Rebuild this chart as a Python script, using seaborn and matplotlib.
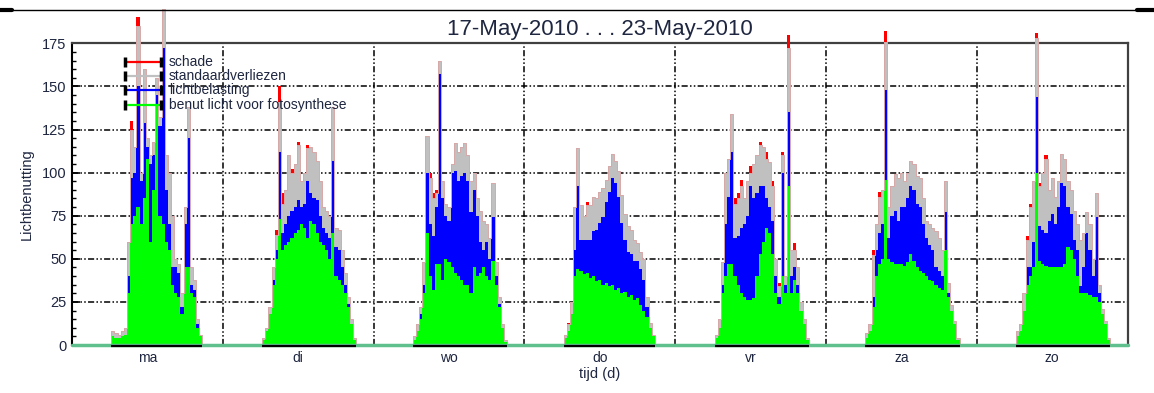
import matplotlib
matplotlib.use("Agg")
import matplotlib.pyplot as plt
from matplotlib.lines import Line2D
import seaborn as sns
import numpy as np
import pandas as pd

# dagen van de week (17 t/m 23 mei 2010)
dagen = ["ma", "di", "wo", "do", "vr", "za", "zo"]

# tijdstippen per dag (uur), halfuurlijkse waarden
uren = [6.0, 6.5, 7.0, 7.5, 8.0, 8.5, 9.0, 9.5, 10.0, 10.5, 11.0, 11.5, 12.0, 12.5, 13.0, 13.5,
        14.0, 14.5, 15.0, 15.5, 16.0, 16.5, 17.0, 17.5, 18.0, 18.5, 19.0, 19.5, 20.0, 20.5, 21.0, 21.5]

# benut licht voor fotosynthese
benut = [
    [0, 5, 4, 4, 5, 6, 30, 70, 75, 80, 70, 85, 108, 60, 90, 140, 75, 70, 60, 55, 35, 30, 28, 18, 45, 45, 30, 28, 10, 5, 0, 0],
    [0, 3, 8, 18, 35, 50, 73, 55, 58, 60, 62, 65, 67, 70, 68, 62, 72, 70, 65, 60, 58, 55, 50, 65, 40, 38, 35, 30, 22, 12, 3, 0],
    [0, 3, 8, 15, 30, 65, 40, 32, 47, 47, 38, 50, 48, 45, 42, 40, 38, 35, 35, 30, 45, 40, 42, 45, 40, 38, 49, 35, 22, 10, 2, 0],
    [0, 4, 8, 18, 40, 44, 43, 41, 42, 39, 40, 37, 38, 35, 36, 34, 35, 32, 33, 30, 31, 28, 29, 26, 27, 23, 20, 16, 10, 5, 0, 0],
    [0, 4, 10, 30, 40, 47, 47, 40, 35, 30, 28, 26, 26, 27, 40, 53, 60, 68, 65, 53, 30, 24, 40, 30, 92, 30, 38, 30, 20, 12, 3, 0],
    [0, 4, 8, 22, 40, 47, 50, 96, 50, 48, 47, 47, 47, 46, 48, 53, 49, 45, 43, 42, 40, 38, 37, 35, 33, 32, 55, 28, 20, 12, 3, 0],
    [0, 5, 8, 20, 35, 40, 45, 100, 49, 47, 46, 45, 45, 45, 45, 45, 47, 57, 55, 50, 40, 30, 30, 30, 29, 28, 28, 25, 18, 12, 3, 0],
]

# lichtbelasting
belasting = [
    [0, 0, 0, 0, 0, 0, 10, 27, 25, 70, 25, 44, 7, 45, 20, 5, 52, 102, 30, 15, 10, 15, 14, 4, 25, 75, 5, 4, 2, 0, 0, 0],
    [0, 0, 0, 0, 3, 5, 39, 10, 12, 15, 16, 15, 17, 10, 14, 33, 16, 15, 19, 15, 10, 10, 12, 42, 17, 17, 10, 5, 2, 0, 0, 0],
    [0, 0, 0, 3, 5, 35, 30, 31, 33, 110, 47, 25, 24, 55, 59, 55, 60, 65, 60, 47, 45, 35, 18, 10, 20, 12, 25, 5, 2, 0, 0, 0],
    [0, 0, 0, 0, 15, 48, 18, 20, 19, 22, 26, 30, 33, 39, 47, 55, 62, 62, 53, 41, 30, 26, 24, 23, 22, 21, 18, 6, 0, 0, 0, 0],
    [0, 0, 0, 5, 30, 39, 65, 22, 28, 38, 42, 49, 66, 58, 48, 39, 32, 17, 15, 19, 10, 4, 60, 5, 43, 10, 7, 5, 0, 0, 0, 0],
    [0, 0, 0, 6, 15, 18, 20, 52, 12, 27, 31, 25, 33, 34, 37, 39, 41, 37, 37, 28, 22, 20, 18, 10, 10, 8, 22, 2, 0, 0, 0, 0],
    [0, 0, 0, 0, 10, 5, 15, 44, 20, 20, 19, 27, 31, 25, 35, 49, 45, 23, 21, 11, 15, 4, 15, 35, 26, 12, 46, 5, 0, 0, 0, 0],
]

# standaardverliezen
verliezen = [
    [0, 3, 3, 2, 3, 4, 20, 28, 15, 35, 5, 31, 5, 5, 8, 10, 5, 23, 20, 30, 30, 5, 5, 8, 10, 18, 10, 6, 3, 1, 0, 0],
    [0, 1, 2, 4, 7, 9, 29, 17, 20, 35, 22, 25, 32, 15, 18, 19, 27, 27, 23, 20, 12, 13, 13, 31, 11, 12, 10, 7, 4, 3, 1, 0],
    [0, 2, 4, 4, 13, 21, 27, 22, 8, 8, 10, 7, 8, 5, 16, 17, 17, 17, 15, 18, 10, 10, 18, 17, 10, 12, 20, 8, 4, 2, 1, 0],
    [0, 2, 4, 7, 25, 22, 20, 14, 20, 20, 20, 18, 18, 17, 13, 15, 14, 13, 15, 16, 15, 15, 14, 12, 10, 10, 12, 6, 3, 1, 0, 0],
    [0, 2, 5, 13, 30, 22, 22, 20, 22, 24, 15, 20, 8, 20, 22, 24, 23, 23, 26, 20, 10, 6, 10, 5, 37, 15, 10, 10, 5, 3, 1, 0],
    [0, 3, 4, 24, 15, 21, 20, 28, 18, 17, 21, 25, 20, 15, 15, 15, 15, 16, 17, 15, 10, 12, 13, 21, 19, 15, 18, 6, 3, 2, 1, 0],
    [0, 3, 4, 10, 16, 35, 35, 34, 23, 33, 43, 18, 21, 16, 15, 17, 16, 15, 14, 17, 15, 27, 20, 12, 15, 10, 14, 5, 3, 2, 1, 0],
]

# schade
schade = [
    [0, 0, 0, 0, 0, 0, 0, 5, 0, 5, 0, 0, 0, 0, 0, 0, 0, 0, 0, 0, 0, 0, 0, 0, 0, 0, 0, 0, 0, 0, 0, 0],
    [0, 0, 0, 0, 0, 3, 9, 6, 0, 0, 2, 0, 2, 0, 0, 2, 0, 0, 0, 0, 0, 0, 0, 0, 0, 0, 0, 0, 0, 0, 0, 0],
    [0, 0, 0, 0, 0, 0, 3, 3, 2, 0, 0, 0, 0, 0, 0, 0, 0, 0, 0, 0, 0, 0, 0, 0, 0, 0, 0, 0, 0, 0, 0, 0],
    [0, 0, 1, 0, 0, 0, 0, 0, 2, 0, 0, 0, 0, 0, 0, 0, 0, 0, 0, 0, 0, 0, 0, 0, 0, 0, 0, 0, 0, 0, 0, 0],
    [0, 0, 0, 0, 0, 0, 0, 3, 3, 4, 0, 0, 4, 0, 0, 2, 0, 4, 0, 3, 0, 2, 2, 0, 8, 0, 4, 0, 0, 0, 0, 0],
    [0, 0, 0, 3, 0, 3, 0, 6, 0, 0, 0, 0, 0, 0, 0, 0, 0, 0, 0, 0, 0, 0, 0, 0, 0, 0, 0, 0, 0, 0, 0, 0],
    [0, 0, 0, 0, 2, 2, 0, 3, 2, 0, 2, 0, 0, 0, 0, 0, 0, 0, 0, 0, 0, 0, 0, 0, 0, 0, 0, 0, 0, 0, 0, 0],
]

legenda = ["schade", "standaardverliezen", "lichtbelasting", "benut licht voor fotosynthese"]
kleuren = ["#ff0000", "#c0c0c0", "#0000ff", "#00ff00"]

# tabel opbouwen
rows = []
for d in range(len(dagen)):
    for i, h in enumerate(uren):
        rows.append({"t": d + h / 24, "benut": benut[d][i], "belasting": belasting[d][i],
                     "verliezen": verliezen[d][i], "schade": schade[d][i]})
df = pd.DataFrame(rows)
df["g"] = df["benut"]
df["b"] = df["g"] + df["belasting"]
df["s"] = df["b"] + df["verliezen"]
df["r"] = df["s"] + df["schade"]

sns.set_theme(style="white")
plt.rcParams["font.family"] = ["Liberation Sans", "DejaVu Sans"]
tekst = "#1e2640"

fig = plt.figure(figsize=(11.54, 3.93), dpi=100)
ax = fig.add_axes([0.0624, 0.1221, 0.9148, 0.7677])

ax.fill_between(df["t"], 0, df["g"], step="mid", color="#00ff00", lw=0, clip_on=False, zorder=3)
ax.fill_between(df["t"], df["g"], df["b"], step="mid", color="#0000ff", lw=0, clip_on=False, zorder=3)
ax.fill_between(df["t"], df["b"], df["s"], step="mid", color="#c0c0c0", lw=0, clip_on=False, zorder=3)
ax.fill_between(df["t"], df["s"], df["r"], step="mid", color="#ff0000", lw=0, clip_on=False, zorder=3)
sns.lineplot(x=df["t"], y=df["s"], drawstyle="steps-mid", color="#d8a8a8", lw=0.7,
             estimator=None, ax=ax, zorder=3.5, clip_on=False)

# nullijn en dagdelen met licht
ax.axhline(0, color="#5fc08e", lw=2.5, zorder=4, clip_on=False)
for d in range(len(dagen)):
    dag = df[(df["t"] >= d) & (df["t"] < d + 1) & (df["r"] > 0)]
    ax.hlines(-0.8, dag["t"].min() - 0.01, dag["t"].max() + 0.01, color="black", lw=1.6,
              zorder=5, clip_on=False)

ax.set_xlim(0, 7)
ax.set_ylim(0, 175)
ax.set_xticks(np.arange(0, 8))
ax.set_xticklabels([])
ax.set_xticks(np.arange(7) + 0.5, minor=True)
ax.set_xticklabels(dagen, minor=True)
ax.tick_params(axis="x", which="both", length=0, pad=4, labelsize=10, labelcolor=tekst)
ax.set_yticks(np.arange(0, 176, 25))
ax.set_yticks(np.arange(0, 176, 5), minor=True)
ax.tick_params(axis="y", which="major", direction="in", length=6, width=1.2, left=True,
               labelsize=10.5, labelcolor=tekst, pad=4, color="black")
ax.tick_params(axis="y", which="minor", direction="in", length=3, width=1, left=True, color="black")

raster = dict(color="black", lw=1.1, linestyle=(0, (4, 1.5, 1, 1.5, 1, 1.5)), zorder=1)
ax.grid(axis="x", which="major", **raster)
ax.grid(axis="y", which="major", **raster)
ax.set_axisbelow(True)

ax.spines["bottom"].set_visible(False)
ax.spines["left"].set_color("black")
ax.spines["left"].set_linewidth(1.5)
for kant in ["top", "right"]:
    ax.spines[kant].set_color("#404040")
    ax.spines[kant].set_linewidth(1.6)

ax.set_title("17-May-2010 . . . 23-May-2010", fontsize=16, pad=6, color=tekst)
ax.set_ylabel("Lichtbenutting", fontsize=10.5, color=tekst, labelpad=6)
ax.set_xlabel("tijd (d)", fontsize=10.5, color=tekst, labelpad=2)

# legenda met streepjes tussen zwarte kapjes
for k, (naam, kleur) in enumerate(zip(legenda, kleuren)):
    y = 0.938 - k * 0.047
    ax.plot([0.05, 0.084], [y, y], transform=ax.transAxes, color=kleur, lw=1.6, zorder=9)
    ax.plot([0.05, 0.084], [y, y], transform=ax.transAxes, ls="none", marker="|",
            ms=7, mew=2.5, color="black", zorder=9)
    ax.text(0.092, y, naam, transform=ax.transAxes, va="center", fontsize=10, color=tekst, zorder=10)

# paginarand boven
yl = 1 - 9.5 / 393
fig.add_artist(Line2D([0, 1137 / 1154], [yl, yl], transform=fig.transFigure, color="black", lw=1))
fig.add_artist(Line2D([0, 12 / 1154], [yl - 0.002, yl - 0.002], transform=fig.transFigure, color="black", lw=3))
fig.add_artist(Line2D([1137 / 1154, 1], [yl - 0.002, yl - 0.002], transform=fig.transFigure, color="black", lw=3))

fig.savefig("out.png", dpi=100)
